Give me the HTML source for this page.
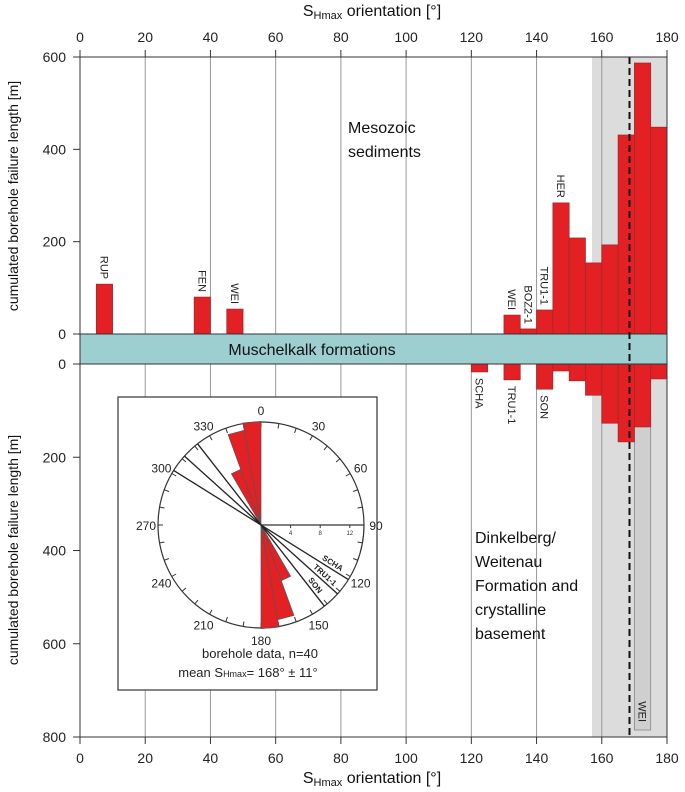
<!DOCTYPE html>
<html><head><meta charset="utf-8"><style>
body{margin:0;background:#fff}
svg{display:block;font-family:"Liberation Sans",Arial,sans-serif}
</style></head><body>
<svg id="c" width="685" height="792" viewBox="0 0 685 792"></svg>
<script>
// ---- data ----
const binStarts=[5,35,45,130,135,140,145,150,155,160,165,170,175];
const upperVals=[108,80,54,41,11,52,284,208,154,193,431,587,448];
const upperLabels=["RUP","FEN","WEI","WEI","BOZ2-1","TRU1-1","HER","","","","","",""];
const lowerStarts=[120,130,140,145,150,155,160,165,170,175];
const lowerVals=[17,34,54,15,36,67,127,167,135,32];
const lowerLabels=["SCHA","TRU1-1","SON","","","","","","",""];
const weiBar=[170,785];
const xTicks=[0,20,40,60,80,100,120,140,160,180];
const upTicks=[0,200,400,600];
const lowTicks=[0,200,400,600,800];
const meanDir=168.5, bandRange=[157,180];
const roseBins=[350,340,330];
const roseCounts=[14,13,8];
const roseLines=[122,132,142];
const roseLineLabels=["SCHA","TRU1-1","SON"];
const roseScale=[4,8,12];

const NS="http://www.w3.org/2000/svg",svg=document.getElementById('c');
function el(t,a,p){const e=document.createElementNS(NS,t);for(const k in a)e.setAttribute(k,a[k]);(p||svg).appendChild(e);return e;}
function tx(s,a,p){const e=el('text',a,p);e.textContent=s;return e;}
const X=v=>80+v*(587/180), YU=v=>334-v*(277/600), YL=v=>364+v*(373/800);
const bw=X(5)-X(0);
// band
let e=el('rect',{x:X(bandRange[0]),y:57,width:X(bandRange[1])-X(bandRange[0]),height:680,fill:'#dcdcdc'});


// grid
xTicks.forEach(t=>{
 if(t>0&&t<180){e=el('line',{x1:X(t),x2:X(t),y1:57,y2:737,stroke:'#999','stroke-width':1});
 
 }
 el('line',{x1:X(t),x2:X(t),y1:50,y2:57,stroke:'#333'});
 el('line',{x1:X(t),x2:X(t),y1:737,y2:744,stroke:'#333'});
 e=tx(t,{x:X(t),y:42,'text-anchor':'middle','font-size':14,fill:'#222'});
 
 
 e=tx(t,{x:X(t),y:763,'text-anchor':'middle','font-size':14,fill:'#222'});
 
 
});
upTicks.forEach(t=>{el('line',{x1:73,x2:80,y1:YU(t),y2:YU(t),stroke:'#333'});
 e=tx(t,{x:66,y:YU(t)+5,'text-anchor':'end','font-size':14,fill:'#222'});
 
 });
lowTicks.forEach(t=>{el('line',{x1:73,x2:80,y1:YL(t),y2:YL(t),stroke:'#333'});
 e=tx(t,{x:66,y:YL(t)+5,'text-anchor':'end','font-size':14,fill:'#222'});
 
 });
// WEI grey bar
e=el('rect',{x:X(weiBar[0]),y:YL(0),width:bw,height:YL(weiBar[1])-YL(0),fill:'#cfcfcf',stroke:'#888','stroke-width':0.8});


e=tx('WEI',{transform:`translate(${X(weiBar[0])+bw/2-4},${YL(weiBar[1])-8}) rotate(90)`,'text-anchor':'end','font-size':11,fill:'#222'});


// upper bars
binStarts.forEach((b,i)=>{
 e=el('rect',{x:X(b),y:YU(upperVals[i]),width:bw,height:YU(0)-YU(upperVals[i]),fill:'#e32024',stroke:'#9a2a2a','stroke-width':0.7});
 
 
 if(upperLabels[i]){e=tx(upperLabels[i],{transform:`translate(${X(b)+bw/2-4},${YU(upperVals[i])-5}) rotate(90)`,'text-anchor':'end','font-size':11,fill:'#222'});
 
 }
});
lowerStarts.forEach((b,i)=>{
 e=el('rect',{x:X(b),y:YL(0),width:bw,height:YL(lowerVals[i])-YL(0),fill:'#e32024',stroke:'#9a2a2a','stroke-width':0.7});
 
 
 if(lowerLabels[i]){e=tx(lowerLabels[i],{transform:`translate(${X(b)+bw/2-4},${YL(lowerVals[i])+6}) rotate(90)`,'text-anchor':'start','font-size':11,fill:'#222'});
 
 }
});
// muschelkalk band
e=el('rect',{x:80,y:334,width:587,height:30,fill:'#9dcfd0',stroke:'#333','stroke-width':1});


e=tx('Muschelkalk formations',{x:312,y:355,'text-anchor':'middle','font-size':16,fill:'#111'});


// mean line
e=el('line',{x1:X(meanDir),x2:X(meanDir),y1:57,y2:737,stroke:'#111','stroke-width':2,'stroke-dasharray':'7,4'});


// frame
el('rect',{x:80,y:57,width:587,height:680,fill:'none',stroke:'#333','stroke-width':1});
// annotations
e=tx('Mesozoic',{x:348,y:133,'font-size':16,fill:'#111'});


tx('sediments',{x:348,y:157,'font-size':16,fill:'#111'});
['Dinkelberg/','Weitenau','Formation and','crystalline','basement'].forEach((s,i)=>{
 e=tx(s,{x:475,y:543+i*24,'font-size':16,fill:'#111'});
 
 });
// axis titles
function title(y){const t=tx('',{x:372,y:y,'text-anchor':'middle','font-size':16,fill:'#111'});
 const a=document.createElementNS(NS,'tspan');a.textContent='S';t.appendChild(a);
 const b=document.createElementNS(NS,'tspan');b.textContent='Hmax';b.setAttribute('font-size',11);b.setAttribute('dy',3);t.appendChild(b);
 const c=document.createElementNS(NS,'tspan');c.textContent=' orientation [°]';c.setAttribute('dy',-3);t.appendChild(c);return t;}
e=title(16);
e=title(783);
e=tx('cumulated borehole failure length [m]',{transform:'translate(18,196) rotate(-90)','text-anchor':'middle','font-size':14,fill:'#111'});

e=tx('cumulated borehole failure length [m]',{transform:'translate(18,550) rotate(-90)','text-anchor':'middle','font-size':14,fill:'#111'});

// inset rose
const g=el('g',{});


el('rect',{x:118,y:397,width:259,height:293,fill:'#fff',stroke:'#333','stroke-width':1.2},g);
const cx=261,cy=525,R=103,k=7.4;
const P=(a,r)=>[cx+r*Math.sin(a*Math.PI/180),cy-r*Math.cos(a*Math.PI/180)];
el('circle',{cx,cy,r:R,fill:'none',stroke:'#333','stroke-width':1.2},g);
for(let a=0;a<360;a+=10){const p=P(a,R),q=P(a,R-5);el('line',{x1:p[0],y1:p[1],x2:q[0],y2:q[1],stroke:'#333'},g);}
for(let a=0;a<360;a+=30){const p=P(a,R+12);tx(a,{x:p[0],y:p[1]+5,'text-anchor':'middle','font-size':12,fill:'#222'},g);}
roseBins.forEach((b,i)=>{[b,b-180].forEach(s=>{const r=roseCounts[i]*k;const a=P(s,r),c=P(s+10,r);
 const pe=el('path',{d:`M${cx},${cy}L${a[0]},${a[1]}L${c[0]},${c[1]}Z`,fill:'#e32024',stroke:'#555','stroke-width':0.7},g);
 
 });});
el('line',{x1:cx,y1:cy,x2:cx+R,y2:cy,stroke:'#333','stroke-width':1.2},g);
roseScale.forEach(s=>{el('line',{x1:cx+s*k,x2:cx+s*k,y1:cy,y2:cy+3,stroke:'#333'},g);
 tx(s,{x:cx+s*k,y:cy+10,'text-anchor':'middle','font-size':6,fill:'#333'},g);});
roseLines.forEach((a,i)=>{const p=P(a,R),q=P(a+180,R);
 const ln=el('line',{x1:q[0],y1:q[1],x2:p[0],y2:p[1],stroke:'#222','stroke-width':1.3},g);
 
 
 const m=P(a,R-22);tx(roseLineLabels[i],{transform:`translate(${m[0]},${m[1]}) rotate(${a-90}) translate(0,-3)`,'text-anchor':'middle','font-size':8,'font-weight':'bold',fill:'#222'},g);});
tx('borehole data, n=40',{x:260,y:658,'text-anchor':'middle','font-size':13,fill:'#222'},g);
const mt=tx('mean S',{x:248,y:677,'text-anchor':'middle','font-size':13,fill:'#222'},g);
const sb=document.createElementNS(NS,'tspan');sb.textContent='Hmax';sb.setAttribute('font-size',9);mt.appendChild(sb);
const rs=document.createElementNS(NS,'tspan');rs.textContent='= 168° ± 11°';mt.appendChild(rs);
</script>
</body></html>
